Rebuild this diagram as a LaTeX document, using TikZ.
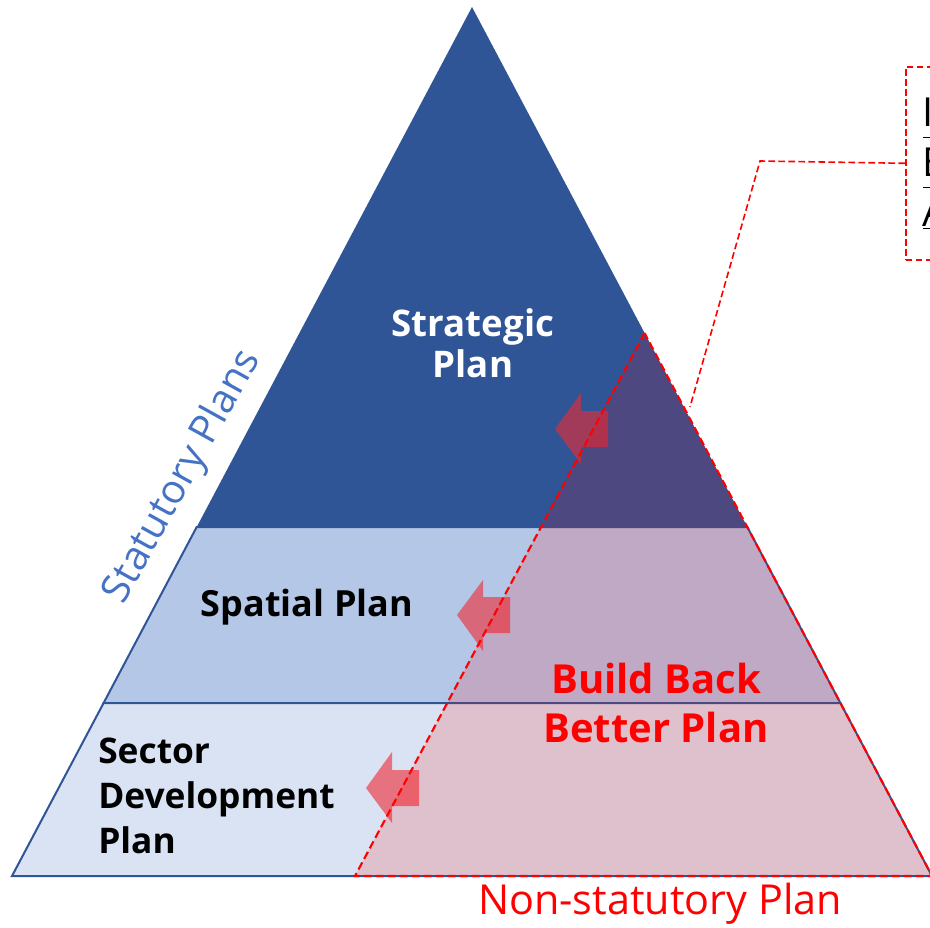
\documentclass[tikz,border=0pt]{standalone}
\usepackage{fontspec}
\setmainfont{Open Sans}
\usepackage{tikz}

\definecolor{darkband}{RGB}{47,85,151}
\definecolor{midband}{RGB}{180,199,231}
\definecolor{lowband}{RGB}{218,227,243}
\definecolor{statblue}{RGB}{68,114,196}
\definecolor{arrowred}{RGB}{240,40,50}

\tikzset{
  bandline/.style={draw=darkband, line width=1.5},
  blockarrow/.style={fill=arrowred, fill opacity=0.6},
  reddash/.style={draw=red, line width=1.6, dash pattern=on 6pt off 3pt},
  labeltext/.style={inner sep=0.75pt, align=center, font=\bfseries\fontsize{27}{31}\selectfont}
}

\begin{document}
\begin{tikzpicture}[x=0.75pt,y=0.75pt,yscale=-1,xscale=1]
\useasboundingbox (0,0) rectangle (930,927);

%Shape: Triangle [top band]
\fill[darkband] (472,7) -- (196.7,527) -- (747.3,527) -- cycle ;
%Shape: Trapezoid [middle band]
\filldraw[fill=midband, bandline] (196.7,527) -- (747.3,527) -- (840.4,703) -- (103.6,703) -- cycle ;
%Shape: Trapezoid [bottom band]
\filldraw[fill=lowband, bandline] (103.6,703) -- (840.4,703) -- (932,876) -- (12,876) -- cycle ;

%Shape: Left Arrow
\fill[blockarrow] (555,429) -- (581,393) -- (581,411) -- (608,411) -- (608,447) -- (581,447) -- (581,464) -- cycle ;
%Shape: Left Arrow
\fill[blockarrow] (457,615) -- (483,580) -- (483,597) -- (510,597) -- (510,633) -- (483,633) -- (483,651) -- cycle ;
%Shape: Left Arrow
\fill[blockarrow] (366,788) -- (392,752) -- (392,770) -- (419,770) -- (419,806) -- (392,806) -- (392,823) -- cycle ;

%Shape: Triangle [non-statutory overlay]
\fill[red, fill opacity=0.15] (644.5,333) -- (355,876) -- (932,876) -- cycle ;
\draw[reddash] (644.5,333) -- (355,876) -- (932,876) -- cycle ;

% Text Node
\draw (473,343) node (strategic) [labeltext, text=white, font=\bfseries\fontsize{27.5}{31}\selectfont] {Strategic\\Plan};
% Text Node
\draw (307,607) node (spatial) [labeltext] {Spatial Plan};
% Text Node
\draw (97,796) node (sector) [labeltext, anchor=west, align=left, font=\bfseries\fontsize{26.5}{34}\selectfont] {Sector\\Development\\Plan};
% Text Node
\draw (656,703) node (bbb) [labeltext, text=red, font=\bfseries\fontsize{30}{37}\selectfont] {Build Back\\Better Plan};
% Text Node
\draw (183,477) node (statutory) [inner sep=0.75pt, text=statblue, rotate=61, font=\fontsize{30}{36}\selectfont] {Statutory Plans};
% Text Node
\draw (660,904) node (nonstat) [inner sep=0.75pt, text=red, font=\fontsize{31}{36}\selectfont] {Non-statutory Plan};

% Callout
\draw (905,66) node (callout) [anchor=north west, draw=red, line width=1.2, dash pattern=on 5pt off 2.5pt, minimum height=144.75pt, text width=220pt, inner xsep=12.75pt, align=left, font=\fontsize{30}{37.5}\selectfont] {\underline{Incorporate}\\\underline{BBB concept}\\\underline{At all levels}};
\coordinate (bend) at (760,161);
\coordinate (leaderend) at (690,407);
\draw[red, line width=1.2, dash pattern=on 5pt off 2.5pt] (callout.west) -- (bend) -- (leaderend) ;

\end{tikzpicture}
\end{document}
